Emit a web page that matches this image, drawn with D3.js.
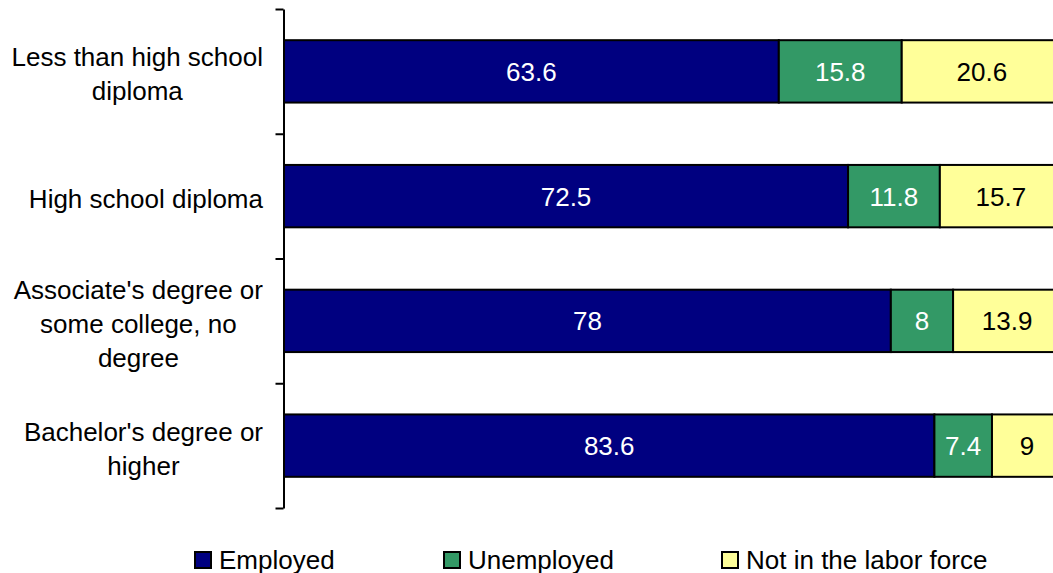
<!DOCTYPE html>
<html>
<head>
<meta charset="utf-8">
<script src="https://cdn.jsdelivr.net/npm/d3@7"></script>
<style>
  body { margin: 0; background: #fff; }
  svg { display: block; font-family: "Liberation Sans", Arial, sans-serif; }
</style>
</head>
<body>
<svg id="chart"></svg>
<script>
// categories (each label split into its lines)
var categories = [
    ['Less than high school', 'diploma'],
    ['High school diploma'],
    ["Associate's degree or", 'some college, no', 'degree'],
    ["Bachelor's degree or", 'higher']
]
var seriesNames = ['Employed', 'Unemployed', 'Not in the labor force']
var employed = [63.6, 72.5, 78, 83.6]
var unemployed = [15.8, 11.8, 8, 7.4]
var notInLaborForce = [20.6, 15.7, 13.9, 9]

var colors = ['#000080', '#339966', '#ffff99']
var labelColors = ['#fff', '#fff', '#000']

var svgWidth = 1053, svgHeight = 573

var svg = d3.select('#chart')
    .attr('width', svgWidth)
    .attr('height', svgHeight)

// build rows for stacking
var rows = categories.map(function (c, i) {
    return { key: i, Employed: employed[i], Unemployed: unemployed[i], 'Not in the labor force': notInLaborForce[i] }
})
var stacked = d3.stack().keys(seriesNames)(rows)

var x = d3.scaleLinear().domain([0, 100]).range([284, 1062])
var y = d3.scaleBand()
    .domain(d3.range(categories.length))
    .range([9, 508])
    .paddingInner(0.5)
    .paddingOuter(0.25)

// axis with ticks at the band boundaries
var yAxisScale = d3.scaleLinear().domain([0, categories.length]).range([9, 508])
var axis = svg.append('g')
    .attr('transform', 'translate(283.5,0)')
    .call(d3.axisLeft(yAxisScale)
        .tickValues(d3.range(categories.length + 1))
        .tickFormat('')
        .tickSize(8)
        .tickSizeOuter(0))
axis.select('.domain').attr('stroke', '#000').attr('stroke-width', 2)
axis.selectAll('.tick line').attr('stroke', '#000').attr('stroke-width', 2)

// bars
var groups = svg.selectAll('g.series')
    .data(stacked)
    .enter().append('g')
    .attr('class', 'series')

groups.selectAll('rect')
    .data(function (s) { return s })
    .enter().append('rect')
    .attr('x', function (d) { return x(d[0]) })
    .attr('y', function (d, i) { return y(i) })
    .attr('width', function (d) { return x(d[1]) - x(d[0]) })
    .attr('height', y.bandwidth())
    .attr('fill', function () { return colors[d3.select(this.parentNode).datum().index] })
    .attr('stroke', '#000')
    .attr('stroke-width', 2)

groups.selectAll('text')
    .data(function (s) { return s })
    .enter().append('text')
    .attr('x', function (d) { return (x(d[0]) + x(d[1])) / 2 })
    .attr('y', function (d, i) { return y(i) + y.bandwidth() / 2 + 9.5 })
    .attr('text-anchor', 'middle')
    .attr('font-size', 26)
    .attr('fill', function () { return labelColors[d3.select(this.parentNode).datum().index] })
    .text(function (d) { return d[1] - d[0] === 0 ? '' : +(d[1] - d[0]).toFixed(1) })

// category labels, lines centred on each other, block right-aligned
var lineHeight = 34
categories.forEach(function (lines, i) {
    var g = svg.append('g')
    var texts = lines.map(function (line, j) {
        return g.append('text')
            .attr('font-size', 26)
            .attr('fill', '#000')
            .attr('text-anchor', 'middle')
            .attr('y', y(i) + y.bandwidth() / 2 + 12 + (j - (lines.length - 1) / 2) * lineHeight)
            .text(line)
    })
    var maxW = d3.max(texts, function (t) { return t.node().getComputedTextLength() })
    texts.forEach(function (t) { t.attr('x', 263 - maxW / 2) })
})

// legend
var legendX = [194, 443, 721]
var legend = svg.selectAll('g.legend')
    .data(seriesNames)
    .enter().append('g')
    .attr('class', 'legend')
    .attr('transform', function (d, i) { return 'translate(' + legendX[i] + ',551)' })

legend.append('rect')
    .attr('x', 1).attr('y', 1)
    .attr('width', 16).attr('height', 16)
    .attr('fill', function (d, i) { return colors[i] })
    .attr('stroke', '#000')
    .attr('stroke-width', 2)

legend.append('text')
    .attr('x', 25)
    .attr('y', 17.5)
    .attr('font-size', 26)
    .attr('fill', '#000')
    .text(function (d) { return d })
</script>
</body>
</html>
